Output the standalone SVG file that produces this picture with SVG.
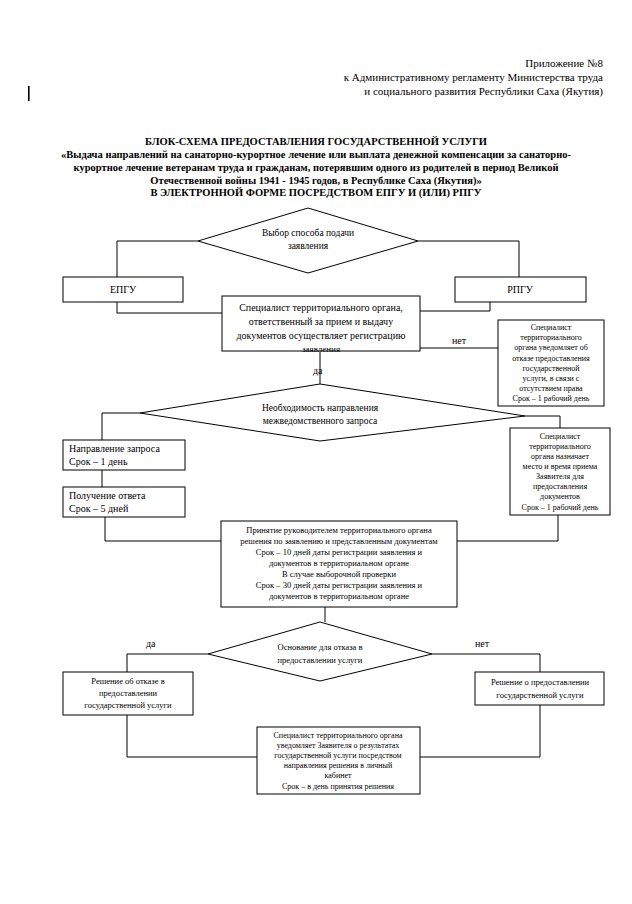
<svg xmlns="http://www.w3.org/2000/svg" width="632" height="904" viewBox="0 0 632 904">
<style>
text{font-family:"Liberation Serif","Times New Roman",serif;fill:#000}
.h{font-size:11px}
.t{font-size:10.5px;font-weight:bold;text-anchor:middle}
.m{text-anchor:middle}
.f10{font-size:10px}
.f95{font-size:9.5px}
.f9{font-size:9px}
.f85{font-size:8.5px}
.f8{font-size:8px}
.box{fill:#fff;stroke:#000;stroke-width:1}
.ln{fill:none;stroke:#000;stroke-width:1}
</style>
<rect width="632" height="904" fill="#fff"/>
<g id="header">
<text class="h" x="603" y="67" text-anchor="end">Приложение №8</text>
<text class="h" x="603" y="81" text-anchor="end">к Административному регламенту Министерства труда</text>
<text class="h" x="603" y="95" text-anchor="end">и социального развития Республики Саха (Якутия)</text>
<rect x="28" y="86" width="1.6" height="15" fill="#000"/>
</g>
<g id="title">
<text class="t" x="316" y="145">БЛОК-СХЕМА ПРЕДОСТАВЛЕНИЯ ГОСУДАРСТВЕННОЙ УСЛУГИ</text>
<text class="t" x="316" y="158">«Выдача направлений на санаторно-курортное лечение или выплата денежной компенсации за санаторно-</text>
<text class="t" x="316" y="171">курортное лечение ветеранам труда и гражданам, потерявшим одного из родителей в период Великой</text>
<text class="t" x="316" y="184">Отечественной войны 1941 - 1945 годов, в Республике Саха (Якутия)»</text>
<text class="t" x="316" y="196">В ЭЛЕКТРОННОЙ ФОРМЕ ПОСРЕДСТВОМ ЕПГУ И (ИЛИ) РПГУ</text>
</g>
<g id="connectors">
<polyline class="ln" points="198,241 117,241 117,277"/>
<polyline class="ln" points="418,241 519,241 519,277"/>
<polyline class="ln" points="117,302 117,313 222,313"/>
<polyline class="ln" points="490,302 490,311 420,311"/>
<polyline class="ln" points="420,348 498,348"/>
<polyline class="ln" points="320,352 320,384"/>
<polyline class="ln" points="140,413 102,413 102,440"/>
<polyline class="ln" points="525,416 560,416 560,428"/>
<polyline class="ln" points="102,470 102,487"/>
<polyline class="ln" points="105,517 105,541 221,541"/>
<polyline class="ln" points="558,515 558,541 457,541"/>
<polyline class="ln" points="325,607 325,622"/>
<polyline class="ln" points="208,654 127,654 127,672"/>
<polyline class="ln" points="432,654 540,654 540,672"/>
<polyline class="ln" points="127,715 127,757 257,757"/>
<polyline class="ln" points="540,705 540,757 420,757"/>
<text class="f10" x="452" y="344">нет</text>
<text class="f10" x="313" y="374">да</text>
<text class="f10" x="146" y="647">да</text>
<text class="f10" x="475" y="647">нет</text>
</g>
<g id="n-choice">
<polygon class="box" points="308,208 418,241 308,273 198,241"/>
<text class="f95 m" x="308" y="236">Выбор способа подачи</text>
<text class="f95 m" x="308" y="249">заявления</text>
</g>
<g id="n-epgu">
<rect class="box" x="63" y="277" width="120" height="25"/>
<text class="f10 m" x="123" y="293">ЕПГУ</text>
</g>
<g id="n-rpgu">
<rect class="box" x="455" y="277" width="131" height="25"/>
<text class="f10 m" x="520" y="293">РПГУ</text>
</g>
<g id="n-reg">
<rect class="box" x="222" y="296" width="198" height="55"/>
<text class="f10 m" x="321" y="311">Специалист территориального органа,</text>
<text class="f10 m" x="321" y="325">ответственный за прием и выдачу</text>
<text class="f10 m" x="321" y="339">документов осуществляет регистрацию</text>
<text class="f9 m" x="321" y="352">заявления</text>
</g>
<g id="n-refuse1">
<rect class="box" x="498" y="320" width="106" height="86"/>
<text class="f8 m" x="551" y="330">Специалист</text>
<text class="f8 m" x="551" y="340">территориального</text>
<text class="f8 m" x="551" y="350">органа уведомляет об</text>
<text class="f8 m" x="551" y="361">отказе предоставления</text>
<text class="f8 m" x="551" y="371">государственной</text>
<text class="f8 m" x="551" y="381">услуги, в связи с</text>
<text class="f8 m" x="551" y="391">отсутствием права</text>
<text class="f8 m" x="551" y="401">Срок – 1 рабочий день</text>
</g>
<g id="n-need">
<polygon class="box" points="320,384 525,416 320,441 140,413"/>
<text class="f95 m" x="320" y="411">Необходимость направления</text>
<text class="f95 m" x="320" y="424">межведомственного запроса</text>
</g>
<g id="n-request">
<rect class="box" x="63" y="440" width="122" height="30"/>
<text class="f10" x="69" y="452">Направление запроса</text>
<text class="f10" x="69" y="465">Срок – 1 день</text>
</g>
<g id="n-answer">
<rect class="box" x="63" y="487" width="122" height="30"/>
<text class="f10" x="69" y="499">Получение ответа</text>
<text class="f10" x="69" y="512">Срок – 5 дней</text>
</g>
<g id="n-appoint">
<rect class="box" x="510" y="428" width="100" height="87"/>
<text class="f8 m" x="560" y="439">Специалист</text>
<text class="f8 m" x="560" y="449">территориального</text>
<text class="f8 m" x="560" y="459">органа назначает</text>
<text class="f8 m" x="560" y="469">место и время приема</text>
<text class="f8 m" x="560" y="479">Заявителя для</text>
<text class="f8 m" x="560" y="489">предоставления</text>
<text class="f8 m" x="560" y="499">документов</text>
<text class="f8 m" x="560" y="510">Срок – 1 рабочий день</text>
</g>
<g id="n-decision">
<rect class="box" x="221" y="521" width="236" height="86"/>
<text class="f85 m" x="339" y="533">Принятие руководителем территориального органа</text>
<text class="f85 m" x="339" y="544">решения по заявлению и представленным документам</text>
<text class="f85 m" x="339" y="555">Срок – 10 дней даты регистрации заявления и</text>
<text class="f85 m" x="339" y="566">документов в территориальном органе</text>
<text class="f85 m" x="339" y="577">В случае выборочной проверки</text>
<text class="f85 m" x="339" y="588">Срок – 30 дней даты регистрации заявления и</text>
<text class="f85 m" x="339" y="599">документов в территориальном органе</text>
</g>
<g id="n-ground">
<polygon class="box" points="320,622 432,654 320,681 208,654"/>
<text class="f85 m" x="320" y="650">Основание для отказа в</text>
<text class="f85 m" x="320" y="663">предоставлении услуги</text>
</g>
<g id="n-deny">
<rect class="box" x="63" y="672" width="130" height="43"/>
<text class="f85 m" x="128" y="684">Решение об отказе в</text>
<text class="f85 m" x="128" y="696">предоставлении</text>
<text class="f85 m" x="128" y="708">государственной услуги</text>
</g>
<g id="n-grant">
<rect class="box" x="475" y="672" width="129" height="33"/>
<text class="f85 m" x="540" y="685">Решение о предоставлении</text>
<text class="f85 m" x="540" y="698">государственной услуги</text>
</g>
<g id="n-notify">
<rect class="box" x="257" y="727" width="163" height="67"/>
<text class="f8 m" x="338" y="738">Специалист территориального органа</text>
<text class="f8 m" x="338" y="748">уведомляет Заявителя  о результатах</text>
<text class="f8 m" x="338" y="758">государственной услуги посредством</text>
<text class="f8 m" x="338" y="768">направления решения в личный</text>
<text class="f8 m" x="338" y="778">кабинет</text>
<text class="f8 m" x="338" y="789">Срок – в день принятия решения</text>
</g>
</svg>
